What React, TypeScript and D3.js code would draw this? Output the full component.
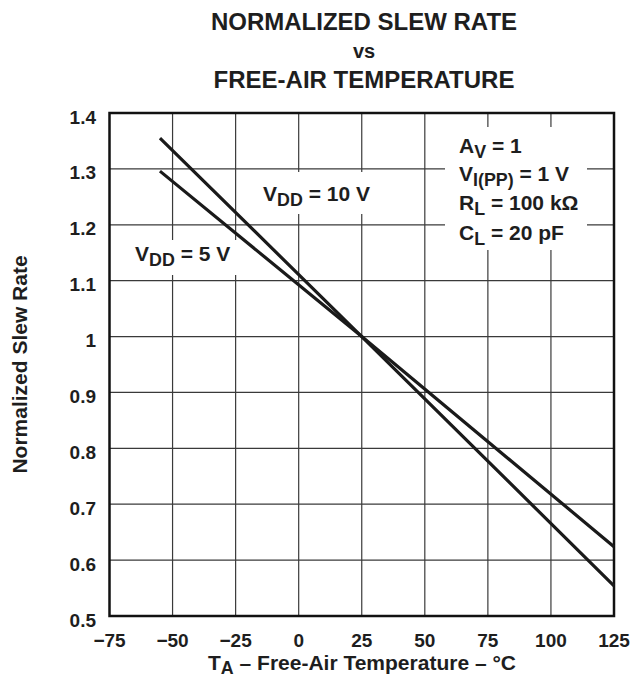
import React from "react";
import * as d3 from "d3";

const temps = [-55, 25, 125];
const vdd10 = [1.355, 1.0, 0.554];
const vdd5 = [1.296, 1.0, 0.624];
const xTicks = [-75, -50, -25, 0, 25, 50, 75, 100, 125];
const xTickLabels = ["\u221275", "\u221250", "\u221225", "0", "25", "50", "75", "100", "125"];
const yTicks = [0.5, 0.6, 0.7, 0.8, 0.9, 1.0, 1.1, 1.2, 1.3, 1.4];
const yTickLabels = ["0.5", "0.6", "0.7", "0.8", "0.9", "1", "1.1", "1.2", "1.3", "1.4"];

const W = 634;
const H = 678;
const L = 109.5, R = 614, T = 113, B = 616;
const FONT = "'Liberation Sans', Arial, Helvetica, sans-serif";
const INK = "#1e1e1e";

export default function App() {
  const x = d3.scaleLinear().domain([-75, 125]).range([L, R]);
  const y = d3.scaleLinear().domain([0.5, 1.4]).range([B, T]);
  const line = d3
    .line<number>()
    .x((_, i) => x(temps[i]))
    .y((d) => y(d));

  const sub = (t: string, size = "0.85em", dy = 5) => (
    <tspan fontSize={size} dy={dy}>{t}</tspan>
  );

  return (
    <svg
      width={W}
      height={H}
      style={{ position: "absolute", left: 0, top: 0, background: "#fff" }}
      fontFamily={FONT}
      fontWeight="bold"
      fill={INK}
    >
      {/* title */}
      <g textAnchor="middle" fontSize={24}>
        <text x={364} y={30}>NORMALIZED SLEW RATE</text>
        <text x={364} y={58} fontSize={20}>vs</text>
        <text x={364} y={88}>FREE-AIR TEMPERATURE</text>
      </g>

      {/* grid */}
      <g stroke="#3a3a3a" strokeWidth={1.2}>
        {xTicks.slice(1, -1).map((t) => (
          <line key={"gx" + t} x1={x(t)} x2={x(t)} y1={T} y2={B} />
        ))}
        {yTicks.slice(1, -1).map((t) => (
          <line key={"gy" + t} x1={L} x2={R} y1={y(t)} y2={y(t)} />
        ))}
      </g>

      {/* label backgrounds */}
      <g fill="#fff">
        <rect x={445} y={127} width={142} height={123} />
        <rect x={258} y={172} width={120} height={42} />
        <rect x={130} y={240} width={108} height={35} />
      </g>

      {/* frame */}
      <rect x={L} y={T} width={R - L} height={B - T} fill="none" stroke="#111" strokeWidth={2.5} />

      {/* data */}
      <g fill="none" stroke="#1a1a1a" strokeWidth={3.2} strokeLinecap="butt">
        <path d={line(vdd10) ?? ""} />
        <path d={line(vdd5) ?? ""} />
      </g>

      {/* y ticks */}
      <g fontSize={19} textAnchor="end">
        {yTicks.map((t, i) => (
          <text key={"yl" + t} x={96} y={y(t) + 10.5}>{yTickLabels[i]}</text>
        ))}
      </g>
      {/* x ticks */}
      <g fontSize={19} textAnchor="middle">
        {xTicks.map((t, i) => (
          <text key={"xl" + t} x={x(t)} y={647}>{xTickLabels[i]}</text>
        ))}
      </g>

      {/* axis titles */}
      <text x={362} y={670} fontSize={21} textAnchor="middle">
        T{sub("A", "0.85em", 4)}<tspan dy={-4}> {"\u2013"} Free-Air Temperature {"\u2013"} {"\u00B0"}C</tspan>
      </text>
      <text
        transform={`translate(27, ${(T + B) / 2}) rotate(-90)`}
        fontSize={21}
        textAnchor="middle"
      >
        Normalized Slew Rate
      </text>

      {/* annotations */}
      <g fontSize={21}>
        <text x={459} y={153}>A{sub("V")}<tspan dy={-5}> = 1</tspan></text>
        <text x={459} y={181}>V{sub("I(PP)")}<tspan dy={-5}> = 1 V</tspan></text>
        <text x={459} y={210}>R{sub("L")}<tspan dy={-5}> = 100 k{"\u03A9"}</tspan></text>
        <text x={459} y={240}>C{sub("L")}<tspan dy={-5}> = 20 pF</tspan></text>
        <text x={263} y={201}>V{sub("DD")}<tspan dy={-5}> = 10 V</tspan></text>
        <text x={135} y={261}>V{sub("DD")}<tspan dy={-5}> = 5 V</tspan></text>
      </g>
    </svg>
  );
}
